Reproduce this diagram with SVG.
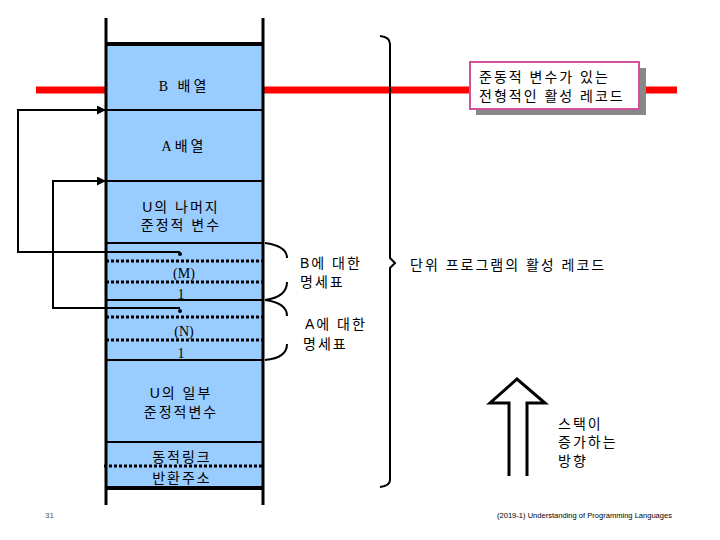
<svg xmlns="http://www.w3.org/2000/svg" width="720" height="540" viewBox="0 0 720 540">
<style>
.t{font-family:"Liberation Serif","Noto Sans CJK KR",serif;font-size:14px;fill:#000}
.k{font-family:"Liberation Sans","Noto Sans CJK KR",sans-serif;font-size:14px;fill:#000;letter-spacing:2px}
.solid{stroke:#000;stroke-width:2;fill:none}
.dot{stroke:#000;stroke-width:3;stroke-dasharray:3 2;fill:none}
.ln{stroke:#000;stroke-width:2;fill:none}
</style>
<defs>
<marker id="ah" viewBox="0 0 10 10" refX="10" refY="5" markerWidth="9" markerHeight="9" orient="auto" markerUnits="userSpaceOnUse"><path d="M0,0 L10,5 L0,10 z" fill="#000"/></marker>
</defs>
<rect width="720" height="540" fill="#fff"/>
<g id="redline">
<line x1="36" y1="90" x2="106" y2="90" stroke="#ff0000" stroke-width="7"/>
<line x1="263" y1="90" x2="677" y2="90" stroke="#ff0000" stroke-width="7"/>
</g>
<g id="stack">
<rect x="106" y="44" width="157" height="444" fill="#99ccff"/>
<line x1="106" y1="18" x2="106" y2="505" stroke="#000" stroke-width="3"/>
<line x1="263" y1="18" x2="263" y2="505" stroke="#000" stroke-width="3"/>
<line x1="105" y1="44" x2="264" y2="44" stroke="#000" stroke-width="4"/>
<line x1="105" y1="488" x2="264" y2="488" stroke="#000" stroke-width="4"/>
</g>
<g id="b-array"><text class="t" x="184" y="91" text-anchor="middle" letter-spacing="3">B 배열</text></g>
<line class="solid" x1="106" y1="110" x2="263" y2="110"/>
<g id="a-array"><text class="t" x="184" y="151" text-anchor="middle" letter-spacing="3">A배열</text></g>
<line class="solid" x1="106" y1="181" x2="263" y2="181"/>
<g id="u-rest"><text class="k" x="181" y="212" text-anchor="middle">U의 나머지</text><text class="k" x="181" y="230" text-anchor="middle">준정적 변수</text></g>
<line class="solid" x1="106" y1="243" x2="263" y2="243"/>
<g id="b-desc">
<line class="dot" x1="106" y1="261" x2="266" y2="261"/>
<text class="t" x="184" y="278" text-anchor="middle">(M)</text>
<line class="dot" x1="106" y1="282" x2="266" y2="282"/>
<text class="t" x="181" y="299" text-anchor="middle">1</text>
</g>
<line class="solid" x1="106" y1="300" x2="263" y2="300"/>
<g id="a-desc">
<line class="dot" x1="106" y1="317" x2="266" y2="317"/>
<text class="t" x="184" y="336" text-anchor="middle">(N)</text>
<line class="dot" x1="106" y1="340" x2="266" y2="340"/>
<text class="t" x="181" y="358" text-anchor="middle">1</text>
</g>
<line class="solid" x1="106" y1="360" x2="263" y2="360"/>
<g id="u-part"><text class="k" x="181" y="398" text-anchor="middle">U의 일부</text><text class="k" x="181" y="417" text-anchor="middle">준정적변수</text></g>
<line class="solid" x1="106" y1="442" x2="263" y2="442"/>
<g id="dyn-link"><text class="k" x="182" y="462" text-anchor="middle">동적링크</text></g>
<line class="dot" x1="104" y1="466" x2="263" y2="466"/>
<g id="ret-addr"><text class="k" x="182" y="483" text-anchor="middle">반환주소</text></g>
<g id="connectors">
<polyline class="ln" points="180,252 18,252 18,110 106,110" marker-end="url(#ah)"/>
<polyline class="ln" points="180,308 53,308 53,181 106,181" marker-end="url(#ah)"/>
<circle cx="180" cy="254" r="2" fill="#000"/>
<circle cx="180" cy="311" r="2" fill="#000"/>
<path class="ln" d="M265,243 Q287,246 287,258"/>
<path class="ln" d="M287,282 Q287,297 265,300"/>
<path class="ln" d="M265,300 Q287,303 287,316"/>
<path class="ln" d="M287,344 Q287,358 265,360"/>
<path class="ln" d="M380,36 Q390,37 390,44 L390,258 L395,263 L390,268 L390,480 Q390,486 380,487" stroke-width="2.5"/>
</g>
<g id="b-label"><text class="k" x="300" y="268">B에 대한</text><text class="k" x="300" y="287">명세표</text></g>
<g id="a-label"><text class="k" x="305" y="329">A에 대한</text><text class="k" x="303" y="349">명세표</text></g>
<g id="unit-label"><text class="k" x="410" y="270">단위 프로그램의 활성 레코드</text></g>
<g id="callout">
<rect x="476" y="68" width="170" height="47" fill="#888"/>
<rect x="470" y="62" width="169" height="47" fill="#fff" stroke="#d0509a" stroke-width="2"/>
<text class="k" x="479" y="82">준동적 변수가 있는</text>
<text class="k" x="479" y="101">전형적인 활성 레코드</text>
</g>
<g id="grow-arrow">
<path d="M509,476 L509,403 L490,403 L517,379 L545,403 L527,403 L527,476" fill="#fff" stroke="#000" stroke-width="3"/>
<text class="k" x="558" y="429">스택이</text>
<text class="k" x="558" y="447">증가하는</text>
<text class="k" x="558" y="466">방향</text>
</g>
<g id="footer">
<text x="45" y="518" font-family="Liberation Sans, sans-serif" font-size="8" fill="#555">31</text>
<text x="497" y="518" font-family="Liberation Sans, sans-serif" font-size="8" fill="#000" textLength="175" lengthAdjust="spacingAndGlyphs">(2019-1) Understanding of Programming Languages</text>
</g>
</svg>
